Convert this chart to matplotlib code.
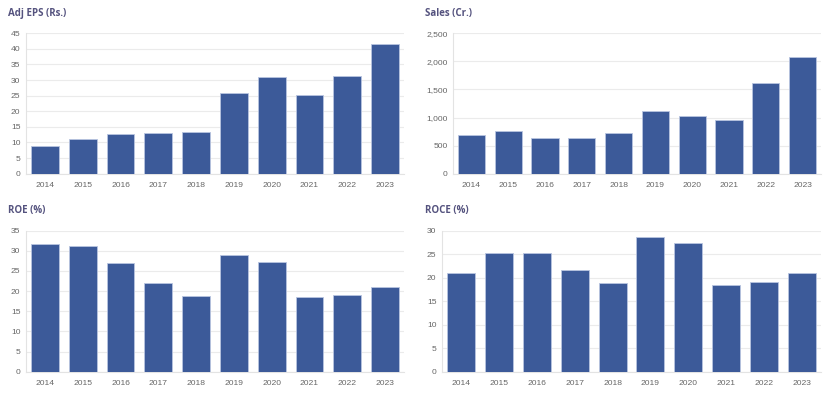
import matplotlib
matplotlib.use("Agg")
import matplotlib.pyplot as plt
from matplotlib.ticker import FuncFormatter, MultipleLocator

years = ["2014", "2015", "2016", "2017", "2018", "2019", "2020", "2021", "2022", "2023"]
adj_eps = [8.8, 11.2, 12.6, 13.0, 13.5, 25.8, 30.9, 25.2, 31.2, 41.6]
sales = [689, 766, 629, 635, 724, 1122, 1021, 950, 1609, 2072]
roe = [31.8, 31.1, 26.9, 22.1, 18.9, 28.9, 27.3, 18.5, 19.0, 21.1]
roce = [21.1, 25.2, 25.2, 21.7, 18.8, 28.7, 27.3, 18.4, 19.0, 21.1]

W, H = 828, 398
BAR = "#3c5a99"
TITLE = "#4b4a78"
TICK = "#666666"
GRID = "#ebebeb"

plt.rcParams["font.family"] = ["Liberation Sans", "DejaVu Sans"]

fig = plt.figure(figsize=(W / 100, H / 100), dpi=100)
fig.patch.set_facecolor("white")

# title, values, ymax, step, comma, axes box (left, right, top, bottom px), title pos (x, y px)
panels = [
    ("Adj EPS (Rs.)", adj_eps, 45, 5, False, (26, 404, 33.3, 173.7), (8, 13.5)),
    ("Sales (Cr.)", sales, 2500, 500, True, (453, 821, 33.3, 173.7), (425, 13.5)),
    ("ROE (%)", roe, 35, 5, False, (26, 404, 230.7, 371.7), (8, 211)),
    ("ROCE (%)", roce, 30, 5, False, (442, 821, 230.7, 371.7), (425, 211)),
]

for title, values, ymax, step, comma, box, tpos in panels:
    l, r, t, b = box
    ax = fig.add_axes([l / W, 1 - b / H, (r - l) / W, (b - t) / H])
    x = range(len(years))
    ax.bar(x, values, width=0.74, color=BAR, edgecolor="#b8c4e0", linewidth=0.6, zorder=3)
    ax.set_xlim(-0.5, len(years) - 0.5)
    ax.set_ylim(0, ymax)
    ax.yaxis.set_major_locator(MultipleLocator(step))
    if comma:
        ax.yaxis.set_major_formatter(FuncFormatter(lambda v, p: f"{int(v):,}"))
    ax.set_xticks(list(x))
    ax.set_xticklabels(years)
    ax.grid(axis="y", color=GRID, linewidth=0.8, zorder=0)
    for s in ["top", "right"]:
        ax.spines[s].set_visible(False)
    ax.spines["left"].set_color("#e3e3e3")
    ax.spines["bottom"].set_color("#e3e3e3")
    ax.tick_params(axis="both", length=0, labelsize=6.1, labelcolor=TICK, pad=4)
    ax.tick_params(axis="x", pad=6)
    fig.text(tpos[0] / W, 1 - tpos[1] / H, title, fontsize=7.0, fontweight="bold",
             color="#55537f", va="center", ha="left", family=["Open Sans", "DejaVu Sans"])

fig.savefig("out.png", dpi=100, facecolor="white")
